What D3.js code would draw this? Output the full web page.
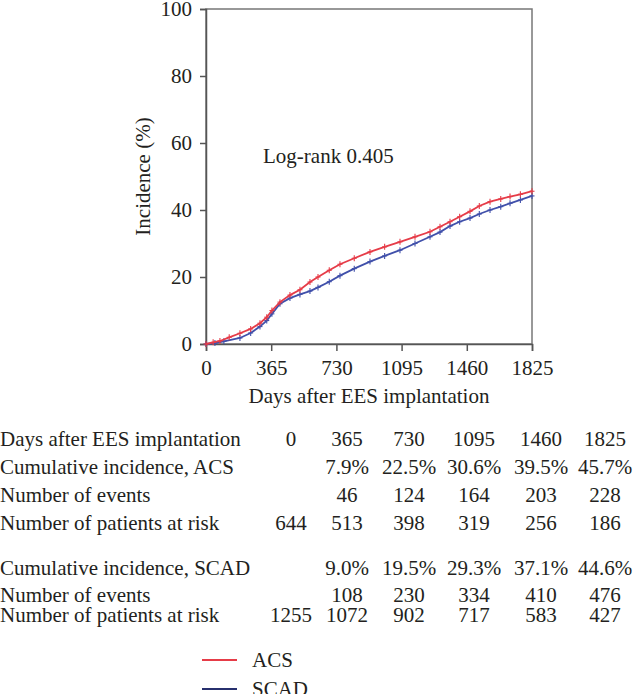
<!DOCTYPE html>
<html><head><meta charset="utf-8">
<script src="https://cdn.jsdelivr.net/npm/d3@7"></script>
<style>
body{margin:0;background:#fff;}
text{font-family:"Liberation Serif","Times New Roman",serif;fill:#231f20;}
</style></head>
<body><svg id="c" width="633" height="694"></svg>
<script>
// ---- data ----
const xTicks = [0, 365, 730, 1095, 1460, 1825];
const yTicks = [0, 20, 40, 60, 80, 100];
const acsDays = [0,40,78,130,190,250,302,340,369,414,470,526,582,627,690,750,830,918,1000,1086,1170,1254,1310,1366,1420,1478,1530,1590,1650,1702,1760,1825];
const acsPct  = [0,0.5,0.9,2.0,3.2,4.5,6.2,8.0,10.0,12.5,14.6,16.2,18.5,20.0,22.0,23.8,25.6,27.5,29.0,30.5,32.0,33.5,35.0,36.5,38.0,39.6,41.2,42.5,43.3,44.0,44.7,45.6];
const scadDays = [0,50,100,190,250,302,340,369,414,470,526,582,627,690,750,830,918,1000,1086,1170,1254,1310,1366,1420,1478,1530,1590,1650,1702,1760,1825];
const scadPct  = [0,0.3,0.8,1.8,3.3,5.2,7.0,9.0,12.0,13.7,14.8,15.8,16.9,18.6,20.4,22.5,24.6,26.3,28.0,30.0,32.0,33.4,35.2,36.5,37.6,38.8,40.0,41.0,42.0,43.0,44.2];
const seriesNames = ["ACS", "SCAD"];
const logRankText = "Log-rank 0.405";
const tableHeader = ["0","365","730","1095","1460","1825"];
const acsIncidence = ["","7.9%","22.5%","30.6%","39.5%","45.7%"];
const acsEvents = ["","46","124","164","203","228"];
const acsAtRisk = ["644","513","398","319","256","186"];
const scadIncidence = ["","9.0%","19.5%","29.3%","37.1%","44.6%"];
const scadEvents = ["","108","230","334","410","476"];
const scadAtRisk = ["1255","1072","902","717","583","427"];
const rowLabels = ["Days after EES implantation","Cumulative incidence, ACS","Number of events","Number of patients at risk","Cumulative incidence, SCAD","Number of events","Number of patients at risk"];

// ---- layout ----
const svg = d3.select("#c");
const L = 206, R = 532, T = 9, B = 344;
const x = d3.scaleLinear().domain([0,1825]).range([L,R]);
const y = d3.scaleLinear().domain([0,100]).range([B,T]);
const red = "#e63c48", blue = "#4050aa", axisCol = "#555";
const fs = 21;

// frame
svg.append("rect").attr("x",L).attr("y",T).attr("width",R-L).attr("height",B-T)
  .attr("fill","none").attr("stroke","#777").attr("stroke-width",1.5);

// axes
const ya = svg.append("g").attr("transform",`translate(${L},0)`)
  .call(d3.axisLeft(y).tickValues(yTicks).tickSize(6).tickPadding(8).tickFormat(d3.format("d")));
const xa = svg.append("g").attr("transform",`translate(0,${B})`)
  .call(d3.axisBottom(x).tickValues(xTicks).tickSize(7).tickPadding(9).tickFormat(d3.format("d")));
[ya,xa].forEach(g=>{
  g.selectAll("path,line").attr("stroke",axisCol).attr("stroke-width",1.5);
  g.selectAll("text").style("font-size",fs+"px").style("font-family",'"Liberation Serif",serif').attr("fill","#231f20");
});

// curves
function drawSeries(days, pct, col){
  const pts = days.map((d,i)=>[d,pct[i]]);
  svg.append("path").datum(pts)
    .attr("d", d3.line().x(d=>x(d[0])).y(d=>y(d[1])).curve(d3.curveLinear))
    .attr("fill","none").attr("stroke",col).attr("stroke-width",1.8);
  const g = svg.append("g").attr("stroke",col).attr("stroke-width",1.1);
  pts.forEach(p=>{
    const cx = x(p[0]), cy = y(p[1]);
    g.append("line").attr("x1",cx-2.5).attr("x2",cx+2.5).attr("y1",cy).attr("y2",cy);
    g.append("line").attr("x1",cx).attr("x2",cx).attr("y1",cy-3).attr("y2",cy+3);
  });
}
drawSeries(scadDays, scadPct, blue);
drawSeries(acsDays, acsPct, red);

// labels
svg.append("text").attr("x",263).attr("y",163).style("font-size",fs+"px").text(logRankText);
svg.append("text").attr("transform",`translate(150,${(T+B)/2}) rotate(-90)`)
  .attr("text-anchor","middle").style("font-size",fs+"px").text("Incidence (%)");
svg.append("text").attr("x",369).attr("y",403).attr("text-anchor","middle")
  .style("font-size",fs+"px").text("Days after EES implantation");

// table
const colX = [291, 347, 409, 474, 541, 605];
const rows = [tableHeader, acsIncidence, acsEvents, acsAtRisk, scadIncidence, scadEvents, scadAtRisk];
const rowY = [446, 474, 502, 530, 575, 602, 622];
rows.forEach((r,i)=>{
  svg.append("text").attr("x",0).attr("y",rowY[i]).style("font-size",fs+"px").text(rowLabels[i]);
  r.forEach((v,j)=>{
    if(!v) return;
    svg.append("text").attr("x",colX[j]).attr("y",rowY[i]).attr("text-anchor","middle")
      .style("font-size",fs+"px").text(v);
  });
});

// legend
const legCols = [red, "#27306e"];
seriesNames.forEach((n,i)=>{
  const ly = 660 + i*29;
  svg.append("line").attr("x1",202).attr("x2",237).attr("y1",ly).attr("y2",ly)
    .attr("stroke",legCols[i]).attr("stroke-width",2);
  svg.append("text").attr("x",252).attr("y",ly+7).style("font-size",fs+"px").text(n);
});
</script></body></html>
